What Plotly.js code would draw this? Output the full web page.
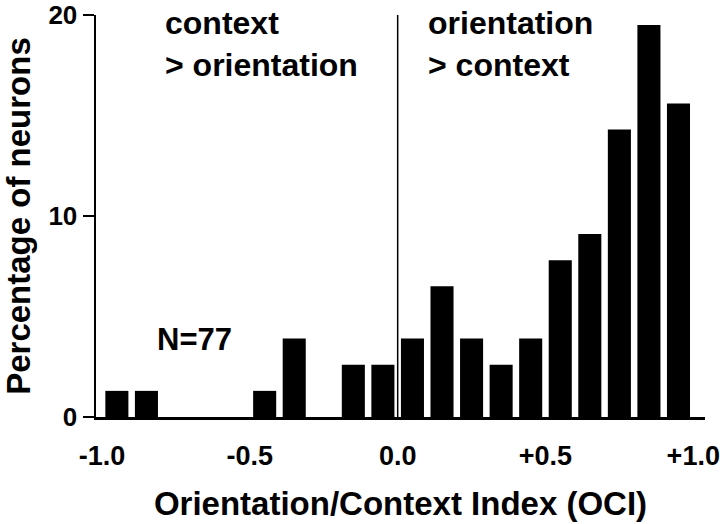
<!DOCTYPE html>
<html><head><meta charset="utf-8">
<script src="https://cdn.plot.ly/plotly-3.0.1.min.js"></script>
<style>html,body{margin:0;padding:0;background:#fff}</style>
</head><body><div id="chart" style="width:720px;height:524px"></div>
<script>
const binCenters = [-0.95,-0.85,-0.45,-0.35,-0.15,-0.05,0.05,0.15,0.25,0.35,0.45,0.55,0.65,0.75,0.85,0.95];
const percentages = [1.3,1.3,1.3,3.9,2.6,2.6,3.9,6.5,3.9,2.6,3.9,7.8,9.1,14.3,19.5,15.6];
const xTickValues = [-1,-0.5,0,0.5,1];
const xTickLabels = ['-1.0','-0.5','0.0','+0.5','+1.0'];
const yTickValues = [0,10,20];
const yTickLabels = ['0','10','20'];

const FONT = 'Liberation Sans, Arial, Helvetica, sans-serif';
const bold = (size) => ({family: FONT, size: size, color: '#000', weight: 700});

const trace = {
  type: 'bar',
  x: binCenters,
  y: percentages,
  width: 0.078,
  marker: {color: '#000', line: {width: 0}},
  hoverinfo: 'x+y'
};

const layout = {
  width: 720, height: 524,
  margin: {l: 96, r: 15, t: 15, b: 107},
  paper_bgcolor: '#fff', plot_bgcolor: '#fff',
  showlegend: false,
  xaxis: {
    range: [-1.0206, 1.0397],
    tickvals: xTickValues, ticktext: xTickLabels,
    ticks: '', showgrid: false, zeroline: false,
    showline: true, linecolor: '#000', linewidth: 2.5,
    tickfont: bold(27),
    ticklabelstandoff: 13,
    title: {text: 'Orientation/Context Index (OCI)', font: bold(33), standoff: 22},
    automargin: false
  },
  yaxis: {
    range: [0, 20],
    tickvals: yTickValues, ticktext: yTickLabels,
    ticks: 'outside', ticklen: 11, tickwidth: 2.5, tickcolor: '#000',
    showgrid: false, zeroline: false,
    showline: true, linecolor: '#000', linewidth: 2.5,
    tickfont: bold(26),
    title: {text: 'Percentage of neurons', font: bold(33), standoff: 10},
    automargin: false
  },
  shapes: [{
    type: 'line', xref: 'x', yref: 'y',
    x0: 0, x1: 0, y0: 0, y1: 20,
    line: {color: '#000', width: 1.5}
  }],
  annotations: [
    {xref: 'x', yref: 'paper', x: -0.795, y: 1.03, xanchor: 'left', yanchor: 'top', align: 'left',
     showarrow: false, text: 'context<br>> orientation', font: bold(32)},
    {xref: 'x', yref: 'paper', x: 0.095, y: 1.03, xanchor: 'left', yanchor: 'top', align: 'left',
     showarrow: false, text: 'orientation<br>> context', font: bold(32)},
    {xref: 'x', yref: 'y', x: -0.82, y: 3.85, xanchor: 'left', yanchor: 'middle', align: 'left',
     showarrow: false, text: 'N=77', font: bold(31)}
  ]
};

Plotly.newPlot('chart', [trace], layout, {displayModeBar: false, staticPlot: true});
</script>
</body></html>
